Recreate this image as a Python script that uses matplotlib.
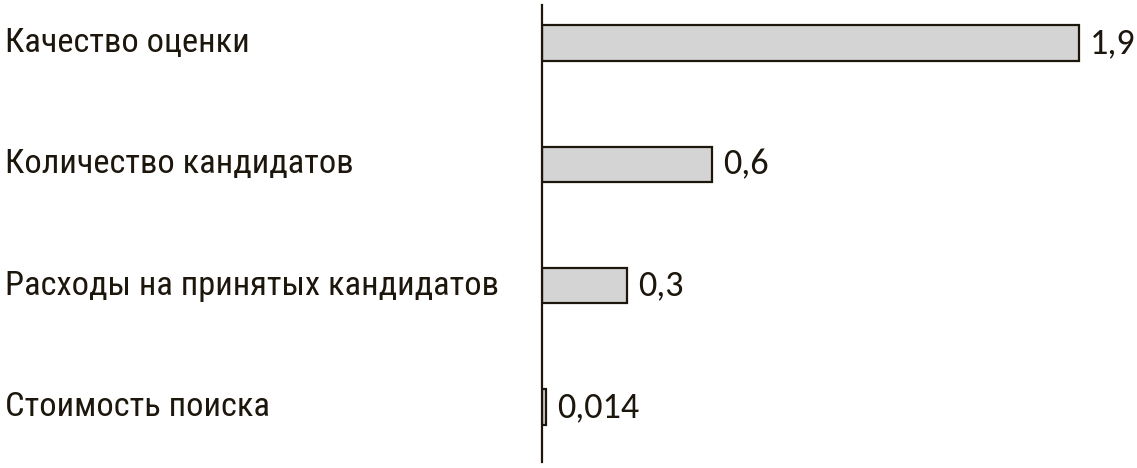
import matplotlib
matplotlib.use("Agg")
import matplotlib.pyplot as plt
from matplotlib.transforms import blended_transform_factory

categories = ["Качество оценки", "Количество кандидатов",
              "Расходы на принятых кандидатов", "Стоимость поиска"]
values = [1.9, 0.6, 0.3, 0.014]
value_labels = ["1,9", "0,6", "0,3", "0,014"]

label_font = ["Roboto Condensed", "DejaVu Sans"]
value_font = ["Carlito", "DejaVu Sans"]

W, H = 1137, 468
fig = plt.figure(figsize=(W / 100, H / 100), dpi=100)
ax_left, ax_right = 542 / W, 1.0
ax_top, ax_bottom = 1 - 5 / H, 1 - 462 / H
ax = fig.add_axes([ax_left, ax_bottom, ax_right - ax_left, ax_top - ax_bottom])

ink = "#1c160c"
ypos = list(range(len(categories)))
ax.barh(ypos, values, height=0.29, color="#d4d4d4", edgecolor=ink, linewidth=1.6)
ax.set_xlim(0, (W - 542) / 282.6)
ax.set_ylim(3 + 0.453, -0.313)

for s in ["top", "right", "bottom"]:
    ax.spines[s].set_visible(False)
ax.spines["left"].set_color(ink)
ax.spines["left"].set_linewidth(1.6)
ax.set_xticks([])
ax.set_yticks([])

trans = blended_transform_factory(fig.transFigure, ax.transData)
for y, cat in zip(ypos, categories):
    ax.text(5 / W, y, cat, transform=trans, ha="left", va="center",
            fontsize=24.8, family=label_font, color=ink)

for y, v, lab in zip(ypos, values, value_labels):
    ax.annotate(lab, (v, y), xytext=(8, 0), textcoords="offset points",
                ha="left", va="center", fontsize=26, family=value_font, color=ink)

fig.savefig("out.png", dpi=100)
